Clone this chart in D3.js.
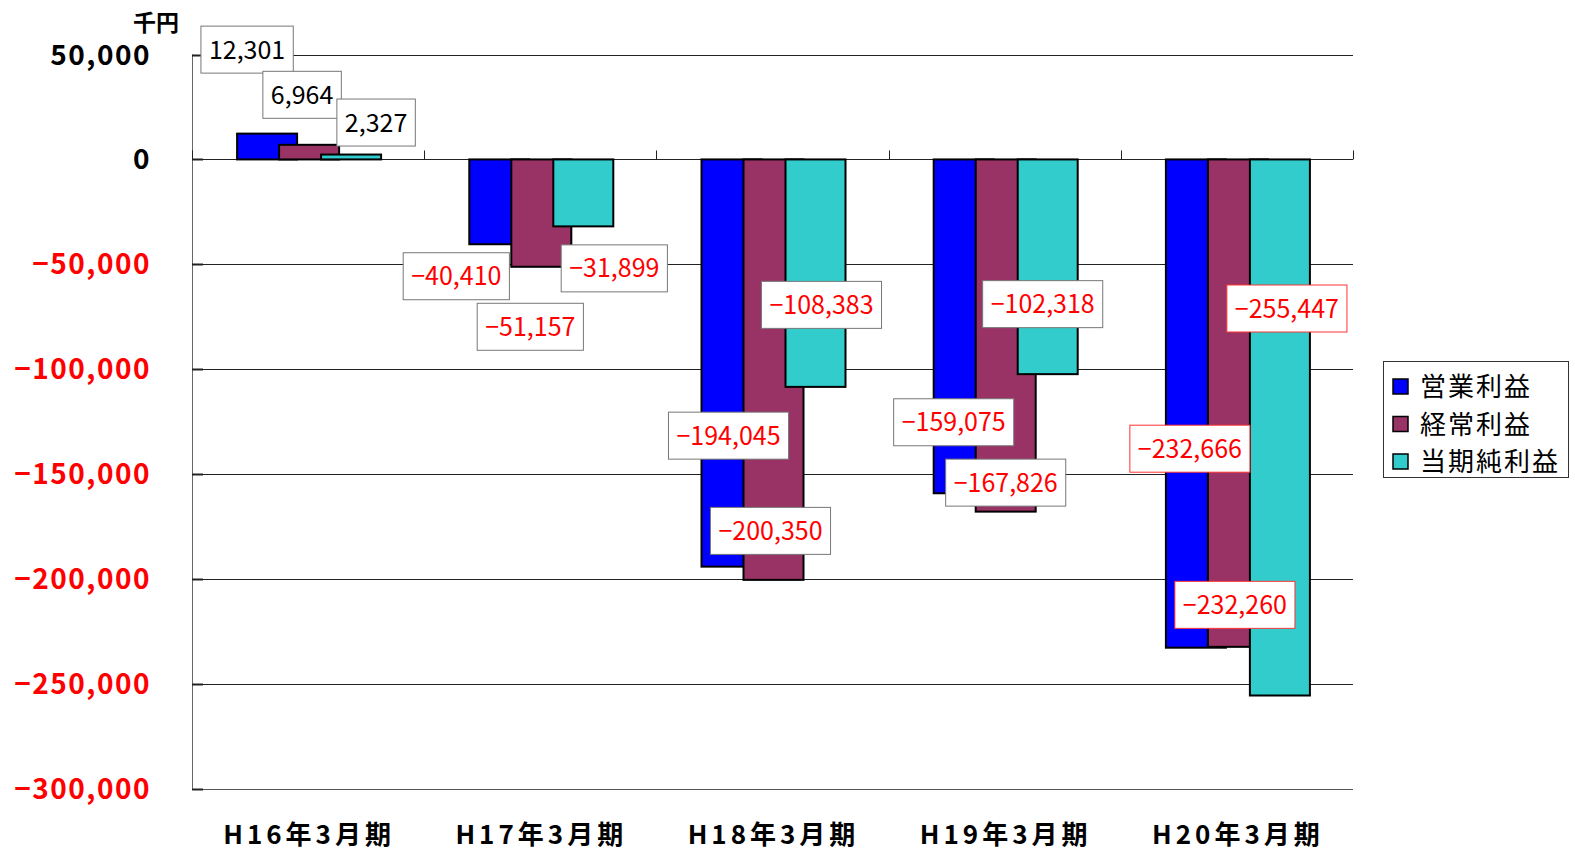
<!DOCTYPE html>
<html>
<head>
<meta charset="utf-8">
<script src="https://cdn.jsdelivr.net/npm/d3@7"></script>
<style>
  body { margin: 0; background: white; }
  #container { width: 1575px; height: 852px; }
</style>
</head>
<body>
<div id="container"></div>
<script>
// data
const categories = ["H16年3月期", "H17年3月期", "H18年3月期", "H19年3月期", "H20年3月期"];
const seriesNames = ["営業利益", "経常利益", "当期純利益"];
const operating = [12301, -40410, -194045, -159075, -232666];
const ordinary = [6964, -51157, -200350, -167826, -232260];
const netIncome = [2327, -31899, -108383, -102318, -255447];
const yTicks = [50000, 0, -50000, -100000, -150000, -200000, -250000, -300000];

// label offsets (px) from bar centre / bar end, per series, per category
const labelDx = [[-19, -42, -2, -9, -5], [-6, -10, -2, 1, -2], [26, 32, 7, -4, 8]];
const labelDy = [[-84, 32, -131, -71, -199], [-50, 60, -49, -29, -42], [-32, 42, -82, -70, -387]];

const colors = ["#0000ff", "#993366", "#33cccc"];
const series = [operating, ordinary, netIncome];

let viz = d3.select("#container").append("svg")
    .attr("width", 1575)
    .attr("height", 852)
    .style("background-color", "white")

let x = d3.scaleBand().domain(categories).range([192, 1353])
let y = d3.scaleLinear().domain([-300000, 50000]).range([789, 54.5])
let fmt = d3.format(",")
let barW = 60, step = 42

// grid lines
viz.append("g").selectAll("line").data(yTicks).enter().append("line")
    .attr("x1", 192).attr("x2", 1353)
    .attr("y1", d => Math.round(y(d)) + 0.5)
    .attr("y2", d => Math.round(y(d)) + 0.5)
    .attr("stroke", d => d === -300000 ? "#555" : "#222")
    .attr("stroke-width", 1)

// y axis line + inner ticks
viz.append("line")
    .attr("x1", 192.5).attr("x2", 192.5)
    .attr("y1", y(50000)).attr("y2", y(-300000) + 1)
    .attr("stroke", "#666")
viz.append("g").selectAll("line").data(yTicks).enter().append("line")
    .attr("x1", 192).attr("x2", 203)
    .attr("y1", d => Math.round(y(d)) + 0.5)
    .attr("y2", d => Math.round(y(d)) + 0.5)
    .attr("stroke", "#222").attr("stroke-width", 2)

// x ticks at band edges on the zero line
let edges = categories.map(c => x(c)).concat([x(categories[4]) + x.bandwidth()])
viz.append("g").selectAll("line").data(edges).enter().append("line")
    .attr("x1", d => Math.round(d) + 0.5).attr("x2", d => Math.round(d) + 0.5)
    .attr("y1", y(0) - 9).attr("y2", y(0))
    .attr("stroke", "#222")

// y tick labels
viz.append("g").selectAll("text").data(yTicks).enter().append("text")
    .attr("x", 151)
    .attr("y", d => y(d) + 10)
    .attr("text-anchor", "end")
    .attr("font-family", "'Noto Sans CJK JP', sans-serif")
    .attr("font-weight", "bold")
    .attr("font-size", 28)
    .attr("letter-spacing", 1.5)
    .attr("fill", d => d < 0 ? "#ff0000" : "#000")
    .text(d => fmt(d))

viz.append("text")
    .attr("x", 156).attr("y", 31)
    .attr("text-anchor", "middle")
    .attr("font-family", "'Noto Sans CJK JP', sans-serif")
    .attr("font-weight", "bold")
    .attr("font-size", 23)
    .text("千円")

// bars
series.forEach((vals, s) => {
    viz.append("g").selectAll("rect").data(vals).enter().append("rect")
        .attr("x", (d, i) => x(categories[i]) + x.bandwidth() / 2 + (s - 1) * step - barW / 2 + 1)
        .attr("width", barW)
        .attr("y", d => y(Math.max(0, d)))
        .attr("height", d => Math.abs(y(d) - y(0)))
        .attr("fill", colors[s])
        .attr("stroke", "#000")
        .attr("stroke-width", 2)
})

// data labels
series.forEach((vals, s) => {
    vals.forEach((d, i) => {
        let cx = x(categories[i]) + x.bandwidth() / 2 + (s - 1) * step + labelDx[s][i]
        let cy = y(d) + labelDy[s][i]
        let g = viz.append("g")
        let box = g.append("rect")
        let t = g.append("text")
            .attr("x", cx).attr("y", cy + 9)
            .attr("text-anchor", "middle")
            .attr("font-family", "'Noto Sans CJK JP', sans-serif")
            .attr("font-size", 25)
            .attr("fill", d < 0 ? "#ff0000" : "#000")
            .text(fmt(d))
        let w = t.node().getComputedTextLength() + 16
        box.attr("x", cx - w / 2).attr("y", cy - 23.5)
            .attr("width", w).attr("height", 47)
            .attr("fill", "white")
            .attr("stroke", i === 4 ? "#ff3333" : "#777")
            .attr("stroke-width", 1)
    })
})

// x labels
viz.append("g").selectAll("text").data(categories).enter().append("text")
    .attr("x", d => x(d) + x.bandwidth() / 2 + 1)
    .attr("y", 844)
    .attr("text-anchor", "middle")
    .attr("font-family", "'Noto Sans CJK JP', sans-serif")
    .attr("font-weight", "bold")
    .attr("font-size", 26)
    .attr("letter-spacing", 4)
    .text(d => d)

// legend
let legend = viz.append("g")
legend.append("rect")
    .attr("x", 1383.5).attr("y", 361.5)
    .attr("width", 185).attr("height", 116)
    .attr("fill", "white").attr("stroke", "#333")
seriesNames.forEach((n, s) => {
    let ly = 387 + s * 37.5
    legend.append("rect")
        .attr("x", 1393).attr("y", ly - 8)
        .attr("width", 15).attr("height", 15)
        .attr("fill", colors[s]).attr("stroke", "#000").attr("stroke-width", 1.5)
    legend.append("text")
        .attr("x", 1420).attr("y", ly + 9)
        .attr("font-family", "'Noto Sans CJK JP', sans-serif")
        .attr("font-size", 26)
        .attr("letter-spacing", 2)
        .text(n)
})
</script>
</body>
</html>
